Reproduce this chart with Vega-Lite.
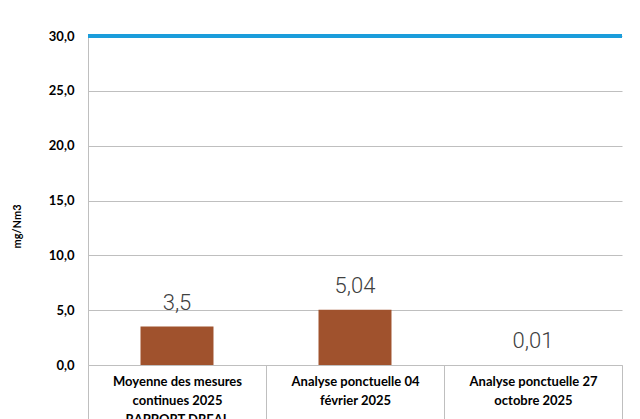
{
  "$schema": "https://vega.github.io/schema/vega-lite/v6.json",
  "autosize": "none",
  "width": 534,
  "height": 329,
  "padding": {"left": 88, "top": 36, "right": 18, "bottom": 54},
  "background": "white",
  "config": {"view": {"stroke": null}, "font": "Lato"},
  "data": {"values": [
    {"categorie": "Moyenne des mesures|continues 2025|RAPPORT DREAL", "valeur": 3.5, "etiquette": "3,5"},
    {"categorie": "Analyse ponctuelle 04|février 2025", "valeur": 5.04, "etiquette": "5,04"},
    {"categorie": "Analyse ponctuelle 27|octobre 2025", "valeur": 0.01, "etiquette": "0,01"}
  ]},
  "layer": [
    {
      "mark": {"type": "bar", "color": "#A0522D", "width": {"band": 0.41}},
      "encoding": {
        "x": {"field": "categorie", "type": "nominal", "sort": null,
          "scale": {"paddingInner": 0, "paddingOuter": 0},
          "axis": {"title": null, "labelAngle": 0, "labelExpr": "datum.value ? split(datum.value, '|') : ''",
            "labelFont": "Lato", "labelFontWeight": "bold", "labelFontSize": 13, "labelColor": "#000000",
            "labelLineHeight": 19, "labelPadding": -44, "labelBaseline": "top",
            "tickBand": "extent", "tickSize": 54, "tickColor": "#BFBFBF", "domainColor": "#BFBFBF",
            "labelLimit": 200}},
        "y": {"field": "valeur", "type": "quantitative",
          "scale": {"domain": [0, 30], "nice": false},
          "axis": {"title": "mg/Nm3", "values": [0, 5, 10, 15, 20, 25, 30],
            "labelExpr": "replace(format(datum.value, '.1f'), '.', ',')",
            "labelFont": "Lato", "labelFontWeight": "bold", "labelFontSize": 13, "labelColor": "#000000",
            "labelPadding": 14, "ticks": false, "domainColor": "#BFBFBF", "gridColor": "#BFBFBF",
            "titleFont": "Lato", "titleFontWeight": "bold", "titleFontSize": 11, "titleColor": "#000000",
            "titlePadding": 26, "titleY": 190}}
      }
    },
    {
      "mark": {"type": "text", "font": "Roboto", "fontWeight": 300, "fontSize": 22, "color": "#404040", "baseline": "alphabetic", "dy": -17},
      "encoding": {
        "x": {"field": "categorie", "type": "nominal", "sort": null},
        "y": {"field": "valeur", "type": "quantitative"},
        "text": {"field": "etiquette"}
      }
    },
    {
      "mark": {"type": "rule", "color": "#1B9DDB", "strokeWidth": 4},
      "encoding": {"y": {"datum": 30}}
    }
  ]
}
